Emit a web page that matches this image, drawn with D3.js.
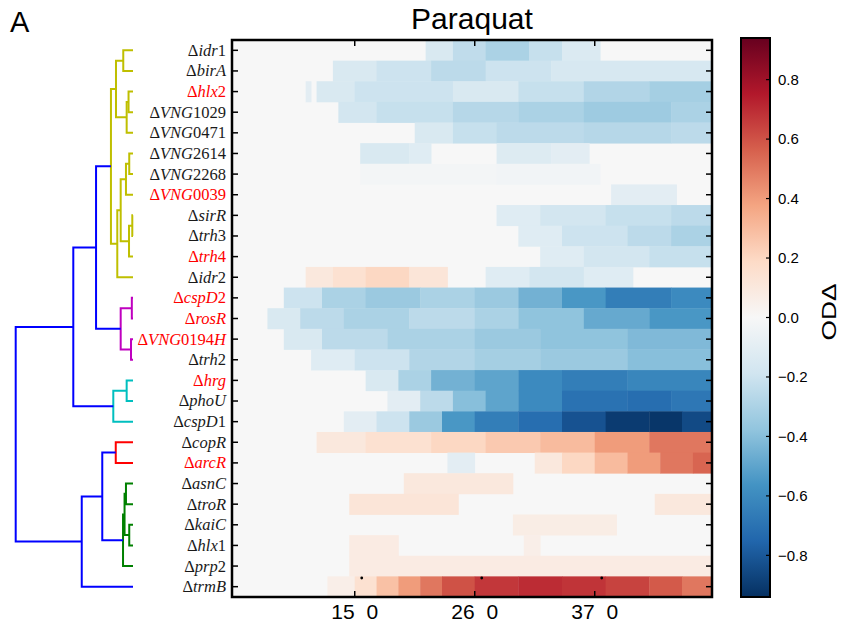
<!DOCTYPE html>
<html>
<head>
<meta charset="utf-8">
<script src="https://cdn.jsdelivr.net/npm/d3@7"></script>
<style>
  body { margin: 0; background: #fff; }
  svg { display: block; }
</style>
</head>
<body>
<div id="chart"></div>
<script>
// strain labels, top to bottom
const strains = ['idr1', 'birA', 'hlx2', 'VNG1029', 'VNG0471', 'VNG2614', 'VNG2268', 'VNG0039',
  'sirR', 'trh3', 'trh4', 'idr2', 'cspD2', 'rosR', 'VNG0194H', 'trh2', 'hrg', 'phoU', 'cspD1',
  'copR', 'arcR', 'asnC', 'troR', 'kaiC', 'hlx1', 'prp2', 'trmB']
const redStrains = ['hlx2', 'VNG0039', 'trh4', 'cspD2', 'rosR', 'VNG0194H', 'hrg', 'arcR']

// OD delta per strain, as [start hour, end hour, value] blocks
const odDelta = [
  [[21.5, 24, -0.15], [24, 27, -0.24], [27, 31, -0.3], [31, 34, -0.22], [34, 37.5, -0.14]],
  [[13, 17, -0.15], [17, 22, -0.2], [22, 27, -0.25], [27, 33, -0.2], [33, 47.75, -0.16]],
  [[10.5, 11, -0.1], [11.5, 15, -0.15], [15, 24, -0.2], [24, 30, -0.15], [30, 36, -0.22], [36, 42, -0.28], [42, 47.75, -0.32]],
  [[13.5, 17, -0.18], [17, 24, -0.22], [24, 30, -0.27], [30, 36, -0.3], [36, 44, -0.34], [44, 47.75, -0.3]],
  [[20.5, 24, -0.15], [24, 28, -0.22], [28, 36, -0.25], [36, 44, -0.27], [44, 47.75, -0.25]],
  [[15.5, 20, -0.15], [20, 22, -0.12], [28, 33, -0.13], [33, 36.5, -0.1]],
  [[15.5, 28, -0.02], [28, 37.5, -0.03]],
  [[38.5, 44.5, -0.1]],
  [[28, 32, -0.12], [32, 38, -0.18], [38, 44, -0.22], [44, 47.75, -0.25]],
  [[30, 34, -0.12], [34, 40, -0.2], [40, 44, -0.25], [44, 47.75, -0.3]],
  [[32, 36, -0.12], [36, 42, -0.18], [42, 47.75, -0.22]],
  [[10.5, 13, 0.1], [13, 16, 0.15], [16, 20, 0.2], [20, 23.5, 0.12], [27, 31, -0.12], [31, 36, -0.18], [36, 40.5, -0.12]],
  [[8.5, 12, -0.2], [12, 16, -0.3], [16, 21, -0.35], [21, 26, -0.3], [26, 30, -0.35], [30, 34, -0.45], [34, 38, -0.55], [38, 44, -0.65], [44, 47.75, -0.6]],
  [[7, 10, -0.15], [10, 14, -0.25], [14, 20, -0.3], [20, 26, -0.25], [26, 30, -0.3], [30, 36, -0.38], [36, 42, -0.48], [42, 47.75, -0.55]],
  [[8.5, 12, -0.15], [12, 18, -0.25], [18, 26, -0.3], [26, 32, -0.35], [32, 40, -0.38], [40, 47.75, -0.42]],
  [[11, 15, -0.12], [15, 20, -0.2], [20, 26, -0.28], [26, 32, -0.32], [32, 40, -0.35], [40, 47.75, -0.4]],
  [[16, 19, -0.15], [19, 22, -0.3], [22, 26, -0.45], [26, 30, -0.5], [30, 34, -0.6], [34, 40, -0.65], [40, 47.75, -0.62]],
  [[18, 21, -0.1], [21, 24, -0.25], [24, 27, -0.4], [27, 30, -0.5], [30, 34, -0.6], [34, 40, -0.7], [40, 44, -0.72], [44, 47.75, -0.68]],
  [[14, 17, -0.1], [17, 20, -0.2], [20, 23, -0.35], [23, 26, -0.55], [26, 30, -0.65], [30, 34, -0.72], [34, 38, -0.82], [38, 42, -0.9], [42, 45, -0.92], [45, 47.75, -0.85]],
  [[11.5, 16, 0.1], [16, 22, 0.15], [22, 27, 0.2], [27, 32, 0.25], [32, 37, 0.3], [37, 42, 0.4], [42, 47.75, 0.5]],
  [[23.5, 26, -0.1], [31.5, 34, 0.1], [34, 37, 0.2], [37, 40, 0.3], [40, 43, 0.4], [43, 46, 0.5], [46, 47.75, 0.55]],
  [[19.5, 29.5, 0.1]],
  [[14.5, 24.5, 0.12], [42.5, 47.75, 0.1]],
  [[29.5, 39, 0.07]],
  [[14.5, 19, 0.08], [30.5, 32, 0.06]],
  [[14.5, 47.75, 0.08]],
  [[12.5, 15, 0.06], [15, 17, 0.15], [17, 19, 0.28], [19, 21, 0.4], [21, 23, 0.5], [23, 26, 0.6], [26, 30, 0.67], [30, 34, 0.7], [34, 38, 0.68], [38, 42, 0.64], [42, 45, 0.58], [45, 47.75, 0.5]]
]

const timeTicks = [15, 26, 37]
const cbarTicks = [-0.8, -0.6, -0.4, -0.2, 0.0, 0.2, 0.4, 0.6, 0.8]

// linkage like scipy: [left, right, distance, colour]; leaves 0..26, merged nodes 27..
const linkage = [
  [0, 1, 8.3, 'y'], [2, 3, 3.8, 'y'], [28, 4, 5.4, 'y'], [27, 29, 14.5, 'y'],
  [5, 6, 3.2, 'y'], [31, 7, 6.0, 'y'], [8, 9, 0.6, 'y'], [33, 10, 3.4, 'y'],
  [32, 34, 10.5, 'y'], [35, 11, 13.4, 'y'], [30, 36, 18.8, 'y'],
  [12, 13, 1.0, 'm'], [14, 15, 1.7, 'm'], [38, 39, 10.5, 'm'],
  [37, 40, 31.5, 'b'],
  [16, 17, 5.4, 'c'], [42, 18, 16.8, 'c'],
  [41, 43, 50.9, 'b'],
  [19, 20, 14.7, 'r'],
  [21, 22, 6.0, 'g'], [23, 24, 3.2, 'g'], [46, 47, 7.2, 'g'], [48, 25, 8.5, 'g'],
  [45, 49, 26.2, 'b'], [50, 26, 43.7, 'b'], [44, 51, 100, 'b']
]
const linkColors = { y: '#bfbf00', m: '#bf00bf', c: '#00bfbf', r: '#ff0000', g: '#008000', b: '#0000ff' }

const w = 843
const h = 630
const heat = { left: 232, right: 712, top: 40, bottom: 597 }
const cbar = { left: 741, right: 770 }
const vmax = 0.94

const svg = d3.select('#chart')
  .append('svg')
  .attr('width', w)
  .attr('height', h)

const xScale = d3.scaleLinear().domain([3.75, 47.75]).range([heat.left, heat.right])
const yScale = d3.scaleBand().domain(strains).range([heat.top, heat.bottom])

// RdBu reversed, linear between the 11 brewer colours (like matplotlib)
const rdbu = d3.schemeRdBu[11].slice().reverse()
const color = d3.scaleLinear()
  .domain(d3.range(11).map(i => -vmax + i * 2 * vmax / 10))
  .range(rdbu)
  .interpolate(d3.interpolateRgb)
  .clamp(true)

// heatmap
svg.append('rect')
  .attr('x', heat.left).attr('y', heat.top)
  .attr('width', heat.right - heat.left).attr('height', heat.bottom - heat.top)
  .attr('fill', color(0))

const rows = svg.append('g').selectAll('g')
  .data(strains)
  .enter()
  .append('g')

rows.selectAll('rect')
  .data((d, i) => odDelta[i].map(s => ({ strain: d, s })))
  .enter()
  .append('rect')
  .attr('x', d => xScale(d.s[0]))
  .attr('y', d => yScale(d.strain))
  .attr('width', d => xScale(d.s[1]) - xScale(d.s[0]) + 0.4)
  .attr('height', yScale.bandwidth() + 0.4)
  .attr('fill', d => color(d.s[2]))

// decimal points of the time labels that ended up above the axis
svg.append('g').selectAll('circle')
  .data(timeTicks)
  .enter()
  .append('circle')
  .attr('cx', d => xScale(d) + 7)
  .attr('cy', heat.bottom - 19)
  .attr('r', 1.4)
  .attr('fill', '#000')

// ticks, all pointing in
const tickG = svg.append('g').attr('stroke', '#000').attr('stroke-width', 1.5)
const rowMid = d => yScale(d) + yScale.bandwidth() / 2
tickG.selectAll('.tl').data(strains).enter().append('line')
  .attr('x1', heat.left).attr('x2', heat.left + 6).attr('y1', rowMid).attr('y2', rowMid)
tickG.selectAll('.tr').data(strains).enter().append('line')
  .attr('x1', heat.right).attr('x2', heat.right - 6).attr('y1', rowMid).attr('y2', rowMid)
tickG.selectAll('.tt').data(timeTicks).enter().append('line')
  .attr('x1', xScale).attr('x2', xScale).attr('y1', heat.top).attr('y2', heat.top + 6)
tickG.selectAll('.tb').data(timeTicks).enter().append('line')
  .attr('x1', xScale).attr('x2', xScale).attr('y1', heat.bottom).attr('y2', heat.bottom - 6)

svg.append('rect')
  .attr('x', heat.left).attr('y', heat.top)
  .attr('width', heat.right - heat.left).attr('height', heat.bottom - heat.top)
  .attr('fill', 'none').attr('stroke', '#000').attr('stroke-width', 2.5)

svg.append('g').selectAll('text')
  .data(timeTicks)
  .enter()
  .append('text')
  .attr('x', xScale)
  .attr('y', heat.bottom + 22)
  .attr('text-anchor', 'middle')
  .attr('font-family', 'Liberation Sans, Arial, sans-serif')
  .attr('font-size', 21)
  .style('white-space', 'pre')
  .text(d => d + '  0')

// strain labels: Δ upright, letters italic, digits upright
const labels = svg.append('g').selectAll('text')
  .data(strains)
  .enter()
  .append('text')
  .attr('x', 226)
  .attr('y', rowMid)
  .attr('dy', '0.33em')
  .attr('text-anchor', 'end')
  .attr('font-family', 'Liberation Serif, Times New Roman, serif')
  .attr('font-size', 16.5)
  .attr('fill', d => redStrains.includes(d) ? '#ff0000' : '#1a1a1a')

labels.append('tspan').text('Δ')
labels.each(function (d) {
  const t = d3.select(this)
  d.split(/(\d+)/).filter(p => p.length).forEach(p => {
    t.append('tspan')
      .attr('font-style', /\d/.test(p) ? 'normal' : 'italic')
      .text(p)
  })
})

// dendrogram
const distX = d3.scaleLinear().domain([0, 100]).range([133, 15.7])
const nodes = strains.map(s => ({ y: rowMid(s), x: distX(0) }))
const links = []
linkage.forEach(([a, b, dist, c]) => {
  const na = nodes[a]
  const nb = nodes[b]
  const x = distX(dist)
  links.push({ pts: [[na.x, na.y], [x, na.y], [x, nb.y], [nb.x, nb.y]], c })
  nodes.push({ x, y: (na.y + nb.y) / 2 })
})

svg.append('g').selectAll('path')
  .data(links)
  .enter()
  .append('path')
  .attr('d', d => d3.line()(d.pts))
  .attr('fill', 'none')
  .attr('stroke', d => linkColors[d.c])
  .attr('stroke-width', 2)

// colorbar
const cbY = d3.scaleLinear().domain([-vmax, vmax]).range([heat.bottom, 38])
const grad = svg.append('defs').append('linearGradient')
  .attr('id', 'cbgrad')
  .attr('x1', 0).attr('y1', 1).attr('x2', 0).attr('y2', 0)
color.domain().forEach((v, i) => {
  grad.append('stop').attr('offset', i / 10).attr('stop-color', color(v))
})
svg.append('rect')
  .attr('x', cbar.left).attr('y', cbY(vmax))
  .attr('width', cbar.right - cbar.left).attr('height', cbY(-vmax) - cbY(vmax))
  .attr('fill', 'url(#cbgrad)')
  .attr('stroke', '#000').attr('stroke-width', 2)

svg.append('g').selectAll('line')
  .data(cbarTicks)
  .enter()
  .append('line')
  .attr('x1', cbar.right - 4).attr('x2', cbar.right)
  .attr('y1', cbY).attr('y2', cbY)
  .attr('stroke', '#000').attr('stroke-width', 1.2)

svg.append('g').selectAll('text')
  .data(cbarTicks)
  .enter()
  .append('text')
  .attr('x', cbar.right + 8)
  .attr('y', cbY)
  .attr('dy', '0.35em')
  .attr('font-family', 'Liberation Sans, Arial, sans-serif')
  .attr('font-size', 15)
  .text(d => d3.format('.1f')(d).replace('-', '−'))

svg.append('text')
  .attr('transform', 'translate(836,312) rotate(-90)')
  .attr('text-anchor', 'middle')
  .attr('font-family', 'Liberation Sans, Arial, sans-serif')
  .attr('font-size', 21)
  .attr('textLength', 57)
  .attr('lengthAdjust', 'spacingAndGlyphs')
  .text('ODΔ')

svg.append('text')
  .attr('x', (heat.left + heat.right) / 2)
  .attr('y', 29)
  .attr('text-anchor', 'middle')
  .attr('font-family', 'Liberation Sans, Arial, sans-serif')
  .attr('font-size', 30)
  .text('Paraquat')

svg.append('text')
  .attr('x', 10)
  .attr('y', 32)
  .attr('font-family', 'Liberation Sans, Arial, sans-serif')
  .attr('font-size', 29)
  .text('A')
</script>
</body>
</html>
